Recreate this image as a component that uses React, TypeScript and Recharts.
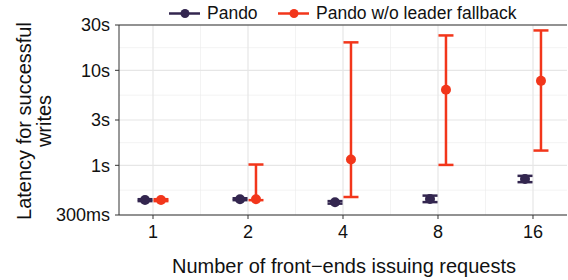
import React from 'react';
import { ComposedChart, Scatter, ErrorBar, XAxis, YAxis, CartesianGrid, ReferenceLine } from 'recharts';

const categories = [1, 2, 4, 8, 16];
const pandoLatency = [0.431, 0.439, 0.408, 0.442, 0.718];
const pandoLow = [0.42, 0.43, 0.395, 0.41, 0.665];
const pandoHigh = [0.44, 0.45, 0.42, 0.48, 0.775];
const noFallbackLatency = [0.431, 0.44, 1.15, 6.25, 7.75];
const noFallbackLow = [0.42, 0.43, 0.464, 1.01, 1.43];
const noFallbackHigh = [0.44, 1.02, 19.7, 23.3, 26.3];

const yTicks = [0.3, 1, 3, 10, 30];
const yMinor = [0.5477, 1.732, 5.477, 17.32];
const xTickPos = categories.map((c) => Math.log2(c));
const xMinor = [0.5, 1.5, 2.5, 3.5];

const PANDO = '#33264f';
const RED = '#f2361b';
const FONT = '"Liberation Sans", Arial, Helvetica, sans-serif';
const DODGE = 0.084;

const build = (vals: number[], lo: number[], hi: number[], shift: number) =>
  categories.map((c, i) => ({
    x: Math.log2(c) + shift,
    y: vals[i],
    err: [vals[i] - lo[i], hi[i] - vals[i]],
  }));

const pandoData = build(pandoLatency, pandoLow, pandoHigh, -DODGE);
const redData = build(noFallbackLatency, noFallbackLow, noFallbackHigh, DODGE);

const fmtY = (v: number) => (v < 1 ? `${Math.round(v * 1000)}ms` : `${v}s`);
const fmtX = (v: number) => `${Math.round(Math.pow(2, v))}`;

const dot = (color: string) => (props: any) => (
  <circle cx={props.cx} cy={props.cy} r={5} fill={color} />
);

const YTitle = () => (
  <text
    transform="translate(0,121) rotate(-90)"
    textAnchor="middle"
    fontFamily={FONT}
    fontSize={20}
    fill="#111"
  >
    <tspan x={0} y={31}>Latency for successful</tspan>
    <tspan x={0} y={51}>writes</tspan>
  </text>
);

const XTitle = () => (
  <text x={344} y={273} textAnchor="middle" fontFamily={FONT} fontSize={20} fill="#111">
    Number of front−ends issuing requests
  </text>
);

const LegendItem = ({ color, label, x }: { color: string; label: string; x: number }) => (
  <div style={{ position: 'absolute', left: x, top: 3, display: 'flex', alignItems: 'center', height: 20 }}>
    <svg width={32} height={20}>
      <line x1={0} y1={10.5} x2={31} y2={10.5} stroke={color} strokeWidth={2.5} />
      <circle cx={16} cy={10.5} r={4.5} fill={color} />
    </svg>
    <span style={{ marginLeft: 6, fontFamily: FONT, fontSize: 17.5, color: '#111', whiteSpace: 'nowrap' }}>
      {label}
    </span>
  </div>
);

export default function App() {
  return (
    <div style={{ position: 'absolute', left: 0, top: 0, width: 568, height: 280, background: '#fff' }}>
      <ComposedChart width={568} height={280} margin={{ top: 25, right: 1, bottom: 0, left: 0 }}>
        <CartesianGrid
          stroke="#ebebeb"
          strokeWidth={0.6}
          horizontalValues={yMinor}
          verticalValues={xMinor}
        />
        <CartesianGrid
          stroke="#e6e6e6"
          strokeWidth={1.2}
          horizontalValues={yTicks}
          verticalValues={xTickPos}
        />
        <XAxis
          type="number"
          dataKey="x"
          domain={[-0.358, 4.358]}
          ticks={xTickPos}
          tickFormatter={fmtX}
          allowDataOverflow
          height={65}
          stroke="#333"
          tickLine={{ stroke: '#333' }}
          tickSize={4}
          tickMargin={6}
          tick={{ fill: '#111', fontFamily: FONT, fontSize: 18 }}
          label={{ content: () => <XTitle /> }}
        />
        <YAxis
          type="number"
          dataKey="y"
          scale="log"
          domain={[0.3, 30]}
          ticks={yTicks}
          tickFormatter={fmtY}
          allowDataOverflow
          width={119}
          stroke="#333"
          tickLine={{ stroke: '#333' }}
          tickSize={4}
          tickMargin={5}
          tick={{ fill: '#111', fontFamily: FONT, fontSize: 18 }}
          label={{ content: () => <YTitle /> }}
        />
        <ReferenceLine y={30} stroke="#333" strokeWidth={1} />
        <Scatter data={pandoData} dataKey="y" fill={PANDO} shape={dot(PANDO)} isAnimationActive={false}>
          <ErrorBar dataKey="err" direction="y" width={7.5} stroke={PANDO} strokeWidth={2.5} isAnimationActive={false} />
        </Scatter>
        <Scatter data={redData} dataKey="y" fill={RED} shape={dot(RED)} isAnimationActive={false}>
          <ErrorBar dataKey="err" direction="y" width={7.5} stroke={RED} strokeWidth={2.5} isAnimationActive={false} />
        </Scatter>
      </ComposedChart>
      <LegendItem color={PANDO} label="Pando" x={169} />
      <LegendItem color={RED} label="Pando w/o leader fallback" x={278} />
    </div>
  );
}
